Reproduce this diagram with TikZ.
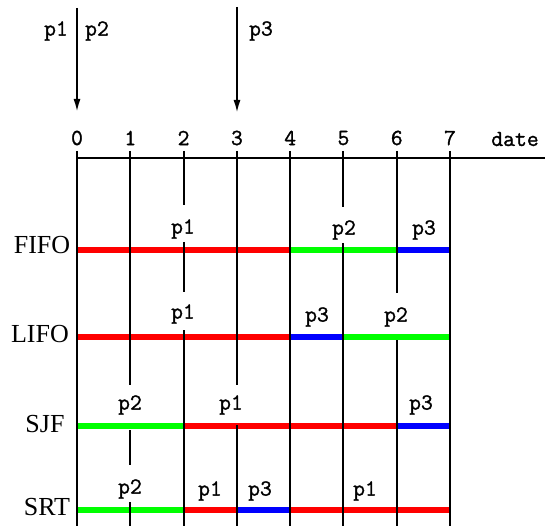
\documentclass[tikz,border=0pt]{standalone}
\usepackage{fontspec}
\setmainfont{Liberation Serif}
\newfontfamily\monofam[FakeBold=1.3]{Latin Modern Mono}
\usetikzlibrary{arrows.meta}
\begin{document}
\begin{tikzpicture}[x=1pt,y=-1pt,
  tick/.style={font=\monofam\fontsize{23}{23}\selectfont, inner sep=0pt},
  plab/.style={font=\monofam\fontsize{23}{23}\selectfont, inner sep=0pt},
  rowlab/.style={font=\fontsize{26}{26}\selectfont, inner sep=0pt},
  gridline/.style={line width=2pt, black},
  axisline/.style={line width=2pt, black},
  bar/.style={line width=5.5pt},
  arrival/.style={line width=2pt, -{Latex[length=13pt,width=7pt]}}]
\useasboundingbox (0,0) rectangle (545,526);

% time ticks on the date axis
\foreach \i in {0,...,7} {
  \coordinate (t\i) at ({77+53.29*\i},158);
  \node[tick] (n\i) at ({77+53.29*\i},138) {\i};
}
\coordinate (axend) at (545,158);
\draw[axisline] (t0) -- (axend);
\node[tick] (date) at (515,139) {date};

% arrival arrows
\coordinate (a0top) at (77,8);
\coordinate (a0bot) at (77,112);
\coordinate (a3top) at (237,7);
\coordinate (a3bot) at (237,113);
\draw[arrival] (a0top) -- (a0bot);
\draw[arrival] (a3top) -- (a3bot);
\node[plab] (arr1) at (56,31) {p1};
\node[plab] (arr2) at (97,31) {p2};
\node[plab] (arr3) at (261,31) {p3};

% schedule bars: row y, then (start,end,colour)
\def\barrow#1#2{\foreach \s/\e/\c in {#2}
  \draw[bar,\c] ({77+53.29*\s},#1) -- ({77+53.29*\e},#1);}
\barrow{250}{0/4/red,4/6/green,6/7/blue}
\barrow{337}{0/4/red,4/5/blue,5/7/green}
\barrow{426}{0/2/green,2/6/red,6/7/blue}
\barrow{510}{0/2/green,2/3/red,3/4/blue,4/7/red}

% vertical time lines, interrupted under the labels
\foreach \i/\a/\b in {0/151/526, 1/151/385, 1/430/465, 1/502/526,
  2/151/205, 2/242/292, 2/330/526, 3/151/385, 3/425/526, 4/151/526,
  5/151/207, 5/243/526, 6/151/293, 6/340/526, 7/151/526}
  \draw[gridline] ({77+53.29*\i},\a) -- ({77+53.29*\i},\b);

% row names
\node[rowlab] (fifo) at (42,245) {FIFO};
\node[rowlab] (lifo) at (40,334) {LIFO};
\node[rowlab] (sjf) at (45,424) {SJF};
\node[rowlab] (srt) at (47,507) {SRT};

% process labels above the bars
\node[plab] (f1) at (183,229) {p1};
\node[plab] (f2) at (344,230) {p2};
\node[plab] (f3) at (424,230) {p3};
\node[plab] (l1) at (183,314) {p1};
\node[plab] (l3) at (317,317) {p3};
\node[plab] (l2) at (396,317) {p2};
\node[plab] (s2) at (130,405) {p2};
\node[plab] (s1) at (231,405) {p1};
\node[plab] (s3) at (421,405) {p3};
\node[plab] (r2) at (130,489) {p2};
\node[plab] (r1) at (210,491) {p1};
\node[plab] (r3) at (260,491) {p3};
\node[plab] (r1b) at (365,491) {p1};
\end{tikzpicture}
\end{document}
